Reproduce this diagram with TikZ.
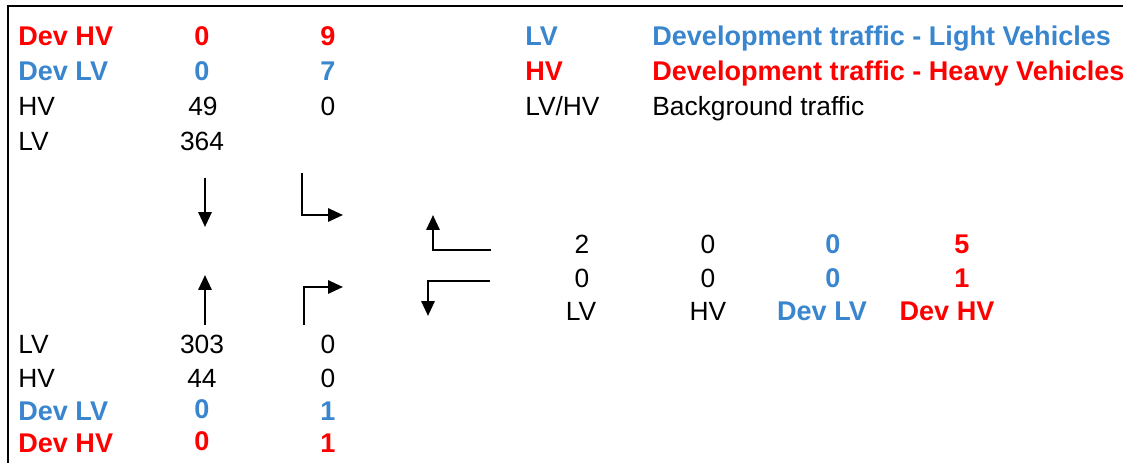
\documentclass[tikz,border=0pt]{standalone}
\usepackage{fontspec}
\setmainfont{Liberation Sans}
\usetikzlibrary{arrows.meta}
\definecolor{devred}{RGB}{255,0,0}
\definecolor{devblue}{RGB}{58,134,206}
\tikzset{
  txt/.style={font=\fontsize{15}{18}\selectfont,inner sep=0pt,anchor=base west},
  num/.style={txt,anchor=base},
  devhv/.style={text=devred,font=\fontsize{15.4}{18}\selectfont\bfseries},
  devlv/.style={text=devblue,font=\fontsize{15.4}{18}\selectfont\bfseries},
  flow/.style={line width=1.4pt,-{Triangle[length=8.5pt,width=7.5pt]}}
}

\begin{document}
\begin{tikzpicture}[x=0.02cm,y=-0.02cm]
\useasboundingbox (0,0) rectangle (1123,463);
\draw[line width=1.2pt] (8,463) -- (8,6) -- (1123,6);

\node[txt,devhv] (n0) at (18,45) {Dev HV};
\node[num,devhv] (n1) at (202,45) {0};
\node[num,devhv] (n2) at (328,45) {9};
\node[txt,devlv] (n3) at (18,80) {Dev LV};
\node[num,devlv] (n4) at (202,80) {0};
\node[num,devlv] (n5) at (328,80) {7};
\node[txt] (n6) at (18,115) {HV};
\node[num] (n7) at (203,115) {49};
\node[num] (n8) at (328,115) {0};
\node[txt] (n9) at (18,150) {LV};
\node[num] (n10) at (202,150) {364};

\node[txt] (n11) at (18,353) {LV};
\node[num] (n12) at (202,353) {303};
\node[num] (n13) at (328,353) {0};
\node[txt] (n14) at (18,387) {HV};
\node[num] (n15) at (202,387) {44};
\node[num] (n16) at (328,387) {0};
\node[txt,devlv] (n17) at (18,420) {Dev LV};
\node[num,devlv] (n18) at (202,418) {0};
\node[num,devlv] (n19) at (328,420) {1};
\node[txt,devhv] (n20) at (18,452) {Dev HV};
\node[num,devhv] (n21) at (202,450) {0};
\node[num,devhv] (n22) at (328,452) {1};

\node[txt,devlv] (k0) at (525,45) {LV};
\node[txt,devlv] (k1) at (652,45) {Development traffic - Light Vehicles};
\node[txt,devhv] (k2) at (525,80) {HV};
\node[txt,devhv] (k3) at (652,80) {Development traffic - Heavy Vehicles};
\node[txt] (k4) at (525,115) {LV/HV};
\node[txt] (k5) at (652,115) {Background traffic};

\node[num] (r0) at (582,253) {2};
\node[num] (r1) at (708,253) {0};
\node[num,devlv] (r2) at (833,253) {0};
\node[num,devhv] (r3) at (962,253) {5};
\node[num] (r4) at (582,287) {0};
\node[num] (r5) at (708,287) {0};
\node[num,devlv] (r6) at (833,287) {0};
\node[num,devhv] (r7) at (962,287) {1};
\node[num] (r8) at (581,320) {LV};
\node[num] (r9) at (708,320) {HV};
\node[num,devlv] (r10) at (822,320) {Dev LV};
\node[num,devhv] (r11) at (947,320) {Dev HV};

\coordinate (a0) at (205,178);
\coordinate (a1) at (205,227);
\coordinate (b0) at (205,325);
\coordinate (b1) at (205,275);
\coordinate (c0) at (302,173);
\coordinate (c1) at (302,215);
\coordinate (c2) at (343,215);
\coordinate (d0) at (304,325);
\coordinate (d1) at (304,287);
\coordinate (d2) at (343,287);
\coordinate (e0) at (491,250);
\coordinate (e1) at (433,250);
\coordinate (e2) at (433,215);
\coordinate (f0) at (490,281);
\coordinate (f1) at (428,281);
\coordinate (f2) at (428,316);

\draw[flow] (a0) -- (a1);
\draw[flow] (b0) -- (b1);
\draw[flow] (c0) -- (c1) -- (c2);
\draw[flow] (d0) -- (d1) -- (d2);
\draw[flow] (e0) -- (e1) -- (e2);
\draw[flow] (f0) -- (f1) -- (f2);
\end{tikzpicture}
\end{document}
